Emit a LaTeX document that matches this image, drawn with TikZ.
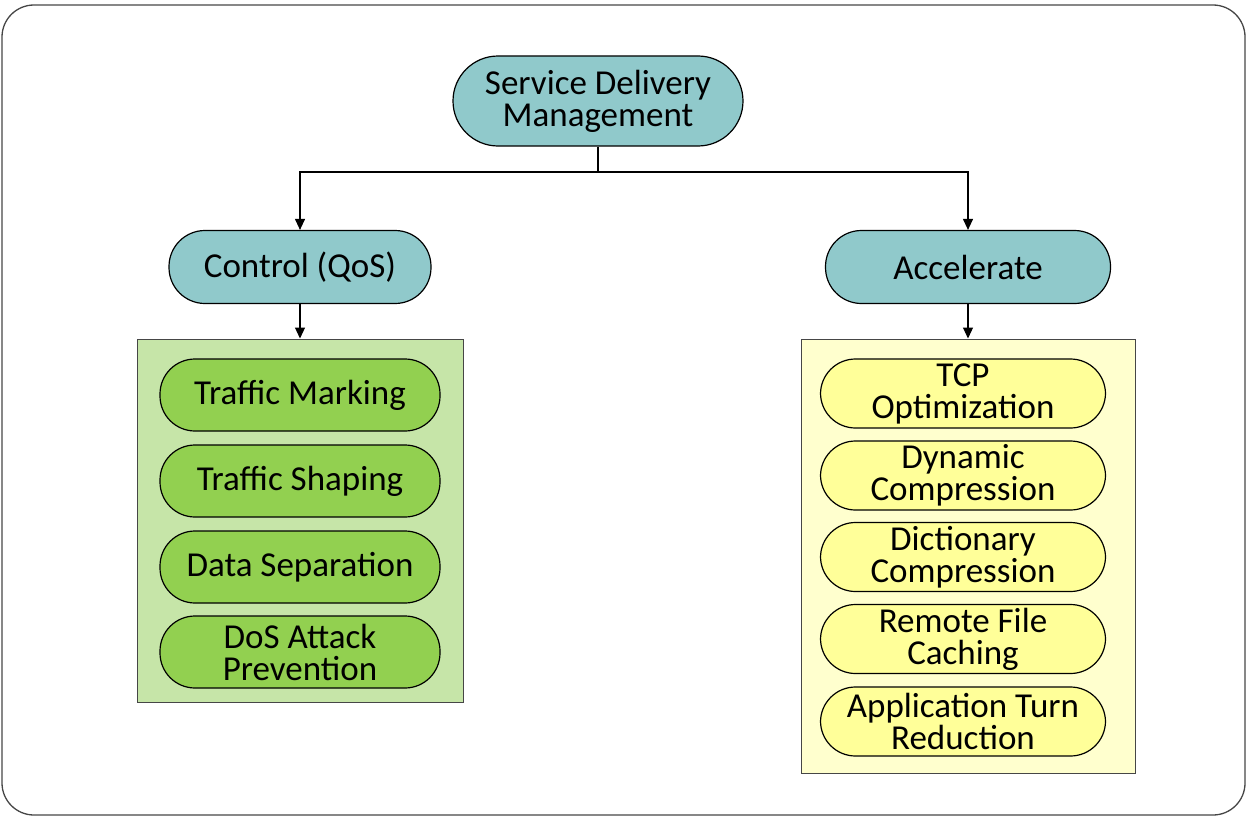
\documentclass[tikz,border=0pt]{standalone}
\usepackage{fontspec}
\setmainfont{Carlito}
\usepackage{tikz}
\usetikzlibrary{arrows.meta, positioning}

\definecolor{headteal}{RGB}{144,201,203}
\definecolor{qosback}{RGB}{198,229,168}
\definecolor{qositem}{RGB}{146,208,80}
\definecolor{accback}{RGB}{255,255,206}
\definecolor{accitem}{RGB}{255,255,153}
\definecolor{framegray}{RGB}{70,70,70}

\tikzset{
    pill/.style={draw=black, line width=1.2pt, rounded corners=35pt, align=center,
        font=\fontsize{35}{32}\selectfont, inner sep=0pt},
    headpill/.style={pill, fill=headteal, rounded corners=36pt},
    qospill/.style={pill, fill=qositem, minimum width=280pt, minimum height=72pt},
    accpill/.style={pill, fill=accitem, minimum width=285pt, minimum height=69pt},
    groupbox/.style={draw=framegray, line width=1pt, inner sep=0pt},
    link/.style={draw=black, line width=1.1pt},
    linkarrow/.style={link, -{Triangle[length=11pt, width=10pt]}}
}

\begin{document}
\begin{tikzpicture}[x=1pt, y=-1pt]
        \useasboundingbox (0,0) rectangle (1247,816);
        \draw[framegray, line width=1.3pt, rounded corners=32pt] (2,5) rectangle (1245,815);

        % top level
        \node[headpill, rounded corners=45pt, minimum width=290pt, minimum height=90pt] (sdm) at (598,101) {Service Delivery\\Management};
        \coordinate (split) at (598,172);

        % second level
        \node[headpill, minimum width=262pt, minimum height=73pt] (qos) at (300,267) {Control (QoS)};
        \node[headpill, minimum width=285pt, minimum height=73pt] (acc) at (968,267) {Accelerate};

        % group boxes
        \node[groupbox, fill=qosback, minimum width=326pt, minimum height=363pt] (qosbox) at (300,520.5) {};
        \node[groupbox, fill=accback, minimum width=334pt, minimum height=434pt] (accbox) at (968,556) {};

        % control items
        \node[qospill] (mark) at (300,395) {Traffic Marking};
        \node[qospill] (shape) at (300,481) {Traffic Shaping};
        \node[qospill] (sep) at (300,567) {Data Separation};
        \node[qospill] (dos) at (300,652) {DoS Attack\\Prevention};

        % accelerate items
        \node[accpill] (tcp) at (963,393.5) {TCP\\Optimization};
        \node[accpill] (dyn) at (963,475.5) {Dynamic\\Compression};
        \node[accpill] (dict) at (963,557) {Dictionary\\Compression};
        \node[accpill] (rfc) at (963,639) {Remote File\\Caching};
        \node[accpill] (turn) at (963,721.5) {Application Turn\\Reduction};

        \draw[link] (sdm) -- (split);
        \draw[linkarrow] (split) -| (qos);
        \draw[linkarrow] (split) -| (acc);
        \draw[linkarrow] (qos) -- (qosbox);
        \draw[linkarrow] (acc) -- (accbox);
    \end{tikzpicture}
\end{document}
